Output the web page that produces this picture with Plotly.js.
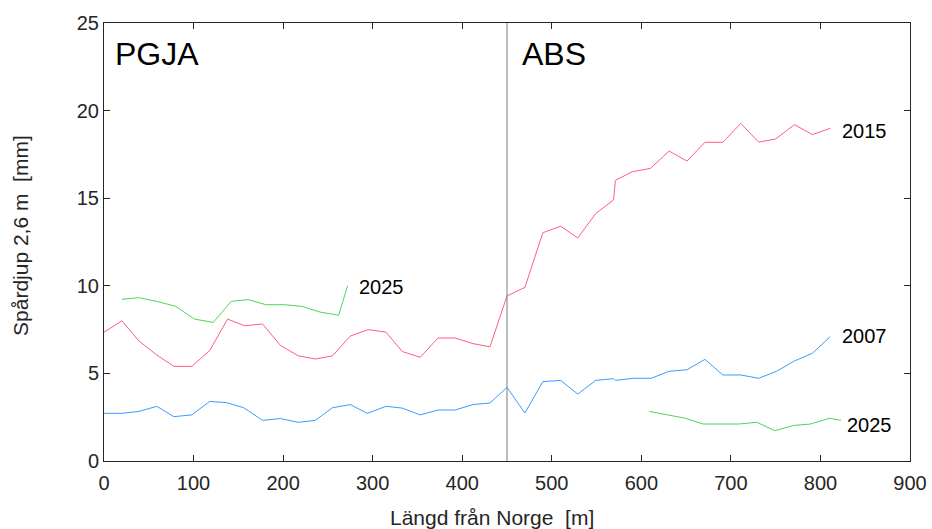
<!DOCTYPE html>
<html>
<head>
<meta charset="utf-8">
<script src="https://cdn.plot.ly/plotly-3.0.1.min.js"></script>
<style>html,body{margin:0;padding:0;background:#fff;}#chart{width:932px;height:529px;}</style>
</head>
<body>
<div id="chart"></div>
<script>
// 2015 (red)
const x2015 = [0, 20, 39, 59, 78, 98, 118, 138, 157, 177, 197, 217, 236, 255, 275, 295, 315, 333, 353, 373, 392, 412, 431, 450, 470, 490, 510, 529, 549, 569, 571, 590, 610, 631, 651, 671, 691, 711, 731, 750, 771, 791, 811];
const y2015 = [7.35, 8.0, 6.85, 6.05, 5.4, 5.4, 6.3, 8.1, 7.72, 7.82, 6.6, 6.0, 5.82, 6.0, 7.13, 7.5, 7.35, 6.25, 5.92, 7.02, 7.02, 6.7, 6.52, 9.42, 9.91, 13.03, 13.4, 12.73, 14.12, 14.9, 16.02, 16.51, 16.7, 17.69, 17.12, 18.19, 18.19, 19.27, 18.2, 18.38, 19.2, 18.63, 18.99];
// 2007 (blue)
const x2007 = [0, 20, 39, 59, 78, 98, 118, 137, 156, 177, 197, 217, 236, 255, 275, 294, 315, 333, 353, 373, 392, 412, 431, 450, 470, 490, 510, 529, 549, 569, 571, 591, 611, 631, 651, 671, 691, 711, 731, 751, 771, 791, 811];
const y2007 = [2.72, 2.72, 2.83, 3.12, 2.53, 2.63, 3.4, 3.33, 3.04, 2.32, 2.42, 2.21, 2.32, 3.04, 3.22, 2.72, 3.12, 3.02, 2.63, 2.91, 2.91, 3.22, 3.31, 4.2, 2.74, 4.53, 4.6, 3.82, 4.6, 4.7, 4.6, 4.72, 4.72, 5.12, 5.21, 5.8, 4.91, 4.91, 4.72, 5.12, 5.71, 6.15, 7.1];
// 2025 (green), PGJA section
const x2025a = [20, 39, 59, 80, 101, 122, 142, 161, 181, 201, 221, 242, 262, 272];
const y2025a = [9.23, 9.32, 9.11, 8.83, 8.1, 7.91, 9.11, 9.21, 8.92, 8.92, 8.83, 8.49, 8.32, 9.99];
// 2025 (green), ABS section
const x2025b = [609, 629, 649, 669, 689, 709, 729, 749, 770, 789, 810, 823];
const y2025b = [2.83, 2.63, 2.44, 2.11, 2.11, 2.11, 2.21, 1.73, 2.03, 2.11, 2.44, 2.32];

const xTicks = [0, 100, 200, 300, 400, 500, 600, 700, 800, 900];
const yTicks = [0, 5, 10, 15, 20, 25];

const RED = '#ff5e7c', BLUE = '#3d9bff', GREEN = '#4fd35a';
const FONT = 'Liberation Sans, Arial, sans-serif';
const TXT = '#262626';

const traces = [
  {x: x2015, y: y2015, mode: 'lines', line: {color: RED, width: 1}, hoverinfo: 'skip'},
  {x: x2007, y: y2007, mode: 'lines', line: {color: BLUE, width: 1}, hoverinfo: 'skip'},
  {x: x2025a, y: y2025a, mode: 'lines', line: {color: GREEN, width: 1}, hoverinfo: 'skip'},
  {x: x2025b, y: y2025b, mode: 'lines', line: {color: GREEN, width: 1}, hoverinfo: 'skip'}
];

const axisCommon = {
  showgrid: false, zeroline: false, showline: true, mirror: 'ticks',
  linecolor: TXT, linewidth: 1, ticks: 'inside', ticklen: 6, tickcolor: TXT,
  tickfont: {family: FONT, size: 20, color: TXT}
};

const layout = {
  width: 932, height: 529,
  margin: {l: 104, r: 22, t: 23, b: 68},
  paper_bgcolor: '#fff', plot_bgcolor: '#fff',
  showlegend: false,
  font: {family: FONT, color: TXT},
  xaxis: Object.assign({}, axisCommon, {
    range: [0, 900], tickvals: xTicks, ticktext: xTicks.map(String), ticklabelstandoff: 4
  }),
  yaxis: Object.assign({}, axisCommon, {
    range: [0, 25], tickvals: yTicks, ticktext: yTicks.map(String)
  }),
  shapes: [
    {type: 'line', xref: 'x', yref: 'y', x0: 450, x1: 450, y0: 0, y1: 25, line: {color: '#7a7a7a', width: 1}}
  ],
  annotations: [
    {x: 0.3524, y: -0.1279, xref: 'paper', yref: 'paper', text: 'Längd från Norge  [m]', showarrow: false, xanchor: 'left', yanchor: 'middle', font: {family: FONT, size: 21, color: TXT}},
    {x: -0.1030, y: 0.516, xref: 'paper', yref: 'paper', text: 'Spårdjup 2,6 m  [mm]', textangle: -90, showarrow: false, xanchor: 'center', yanchor: 'middle', font: {family: FONT, size: 21, color: TXT}},
    {x: 10, y: 23.23, xref: 'x', yref: 'y', text: 'PGJA', showarrow: false, xanchor: 'left', yanchor: 'middle', font: {family: FONT, size: 32, color: '#000'}},
    {x: 464, y: 23.23, xref: 'x', yref: 'y', text: 'ABS', showarrow: false, xanchor: 'left', yanchor: 'middle', font: {family: FONT, size: 32, color: '#000'}},
    {x: 822, y: 18.84, xref: 'x', yref: 'y', text: '2015', showarrow: false, xanchor: 'left', yanchor: 'middle', font: {family: FONT, size: 20, color: '#000'}},
    {x: 822, y: 7.16, xref: 'x', yref: 'y', text: '2007', showarrow: false, xanchor: 'left', yanchor: 'middle', font: {family: FONT, size: 20, color: '#000'}},
    {x: 282, y: 9.93, xref: 'x', yref: 'y', text: '2025', showarrow: false, xanchor: 'left', yanchor: 'middle', font: {family: FONT, size: 20, color: '#000'}},
    {x: 827, y: 2.08, xref: 'x', yref: 'y', text: '2025', showarrow: false, xanchor: 'left', yanchor: 'middle', font: {family: FONT, size: 20, color: '#000'}}
  ]
};

Plotly.newPlot('chart', traces, layout, {staticPlot: true, displayModeBar: false});
</script>
</body>
</html>
